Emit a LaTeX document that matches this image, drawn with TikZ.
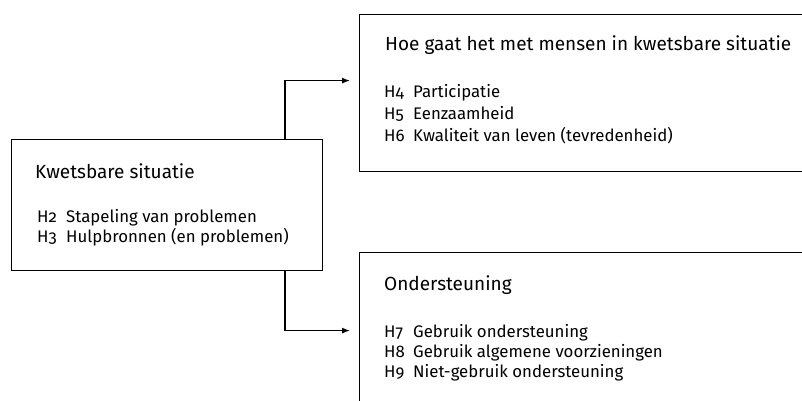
\documentclass[tikz,border=0pt]{standalone}
\usepackage{fontspec}
\setmainfont[Numbers=OldStyle]{Fira Sans}
\usetikzlibrary{arrows.meta}

\begin{document}
\begin{tikzpicture}[x=1pt,y=-1pt,
	box/.style={draw,line width=1.2pt,anchor=north west,inner sep=0pt},
	kop/.style={anchor=base west,inner sep=0pt,font=\fontsize{19}{22}\selectfont},
	item/.style={anchor=base west,inner sep=0pt,font=\fontsize{16.8}{19}\selectfont},
	pijl/.style={line width=1.2pt,-{Latex[length=8pt,width=6pt]},shorten >=9pt}]

\def\tab{29}

\useasboundingbox (0,0) rectangle (802,401);
\clip (0,0) rectangle (802,401);

% boxes, the right ones run off the page
\node[box,minimum width=311pt,minimum height=131pt] (kwets) at (11,139) {};
\node[box,minimum width=470pt,minimum height=157pt] (hoe) at (359,14) {};
\node[box,minimum width=470pt,minimum height=178pt] (steun) at (359,252) {};

\node[kop] (kwets-kop) at (35,178) {Kwetsbare situatie};
\node[kop] (hoe-kop) at (385,51) {Hoe gaat het met mensen in kwetsbare situatie};
\node[kop] (steun-kop) at (384,290) {Ondersteuning};

\foreach \n/\tekst/\x/\y in {2/Stapeling van problemen/37/222,
	3/Hulpbronnen (en problemen)/37/242,
	4/Participatie/384/98,
	5/Eenzaamheid/384/119,
	6/Kwaliteit van leven (tevredenheid)/384/141,
	7/Gebruik ondersteuning/384/337,
	8/Gebruik algemene voorzieningen/384/357,
	9/Niet-gebruik ondersteuning/384/377}{
	\node[item] (h\n) at (\x,\y) {H\n};
	\node[item] (h\n-tekst) at (\x+\tab,\y) {\tekst};
}

\coordinate (splits) at (285,0);
\draw[pijl] (kwets.north -| splits) |- ([yshift=12.5pt]hoe.west);
\draw[pijl] (kwets.south -| splits) |- ([yshift=11pt]steun.west);

\end{tikzpicture}
\end{document}
